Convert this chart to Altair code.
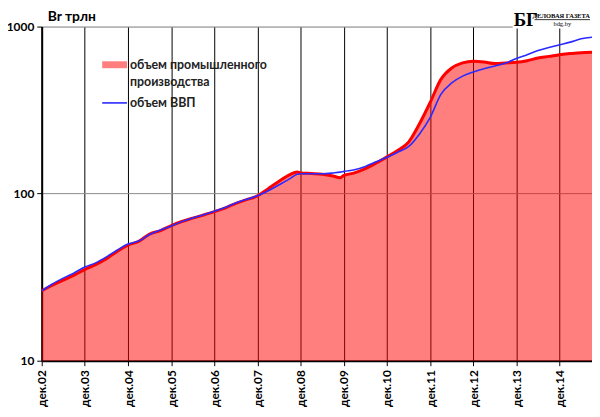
import altair as alt
import pandas as pd

# quarterly readings, trillion Br, log scale
dates = [
    "2002-12-01",
    "2003-03-01", "2003-06-01", "2003-09-01", "2003-12-01",
    "2004-03-01", "2004-06-01", "2004-09-01", "2004-12-01",
    "2005-03-01", "2005-06-01", "2005-09-01", "2005-12-01",
    "2006-03-01", "2006-06-01", "2006-09-01", "2006-12-01",
    "2007-03-01", "2007-06-01", "2007-09-01", "2007-12-01",
    "2008-03-01", "2008-06-01", "2008-09-01", "2008-11-01", "2008-12-01",
    "2009-03-01", "2009-06-01", "2009-09-01", "2009-11-01", "2009-12-01",
    "2010-03-01", "2010-06-01", "2010-09-01", "2010-12-01",
    "2011-03-01", "2011-06-01", "2011-09-01", "2011-12-01",
    "2012-03-01", "2012-06-01", "2012-09-01", "2012-12-01",
    "2013-03-01", "2013-06-01", "2013-09-01", "2013-12-01",
    "2014-03-01", "2014-06-01", "2014-09-01", "2014-12-01",
    "2015-03-01", "2015-06-01", "2015-09-01",
]
industry = [
    26.2,
    28.3, 30.4, 32.5, 35.2,
    37.6, 40.8, 45.2, 49.2,
    51.8, 57.3, 60.1, 64.4,
    68.1, 71.3, 74.5, 78.0,
    82.0, 87.5, 92.0, 97.0,
    107, 118.6, 130, 134.6, 133,
    132, 130.8, 127.5, 124.6, 128.5,
    133, 141, 152.6, 166,
    181, 203, 261, 351,
    483, 565, 606, 620,
    614, 601, 606, 611,
    625, 649, 663, 679,
    689, 698, 703,
]
gdp = [
    26.2,
    28.8, 31.2, 33.5, 36.4,
    38.5, 41.8, 46.0, 49.9,
    52.0, 57.0, 60.5, 64.0,
    68.0, 71.5, 74.8, 78.5,
    82.5, 88.0, 92.5, 97.0,
    104, 113, 123, 130.8, 131.6,
    131.6, 131.6, 133, 134.5, 135.9,
    139, 145.6, 155, 165,
    177, 191, 227, 285,
    393, 460, 505, 535,
    560, 580, 605, 645,
    679, 718, 750, 778,
    807, 845, 863,
]
year_ticks = list(range(2002, 2015))

unit_title = "Br трлн"
legend_labels = ["объем промышленного", "производства", "объем ВВП"]

df = pd.DataFrame({"date": dates, "industry": industry, "gdp": gdp})
df["base"] = 10

FONT = "Lato"

x_scale = alt.Scale(
    type="utc",
    domain=[
        alt.DateTime(year=2002, month=12, date=1, utc=True),
        alt.DateTime(year=2015, month=9, date=1, utc=True),
    ],
)
y_scale = alt.Scale(type="log", domain=[10, 1000])

x_axis = alt.Axis(
    values=[alt.DateTime(year=y, month=12, date=1, utc=True) for y in year_ticks],
    labelExpr="'дек.' + utcFormat(datum.value, '%y')",
    labelAngle=-90,
    labelFont=FONT,
    labelFontWeight="bold",
    labelFontSize=12,
    labelColor="black",
    labelPadding=4,
    grid=True,
    gridColor="black",
    gridOpacity=1,
    gridWidth=1,
    domainColor="black",
    domainWidth=2,
    tickColor="black",
    tickSize=5,
    title=None,
)
y_axis = alt.Axis(
    values=[10, 100, 1000],
    format="d",
    labelFont=FONT,
    labelFontWeight="bold",
    labelFontSize=12,
    labelColor="black",
    labelPadding=3,
    grid=True,
    gridColor="#8a8a8a",
    gridOpacity=1,
    domainColor="black",
    domainWidth=2,
    tickColor="black",
    tickSize=5,
    title=None,
)

base = alt.Chart(df).encode(x=alt.X("date:T", scale=x_scale, axis=x_axis))

area = base.mark_area(color="#ff0000", opacity=0.5, interpolate="monotone").encode(
    y=alt.Y("industry:Q", scale=y_scale, axis=y_axis),
    y2="base:Q",
)
red_line = base.mark_line(color="#ff0000", strokeWidth=3, interpolate="monotone").encode(
    y=alt.Y("industry:Q", scale=y_scale)
)
blue_line = base.mark_line(color="#2a2aff", strokeWidth=1.6, interpolate="monotone").encode(
    y=alt.Y("gdp:Q", scale=y_scale)
)

one = pd.DataFrame({"k": [0]})

title_txt = alt.Chart(pd.DataFrame({"t": [unit_title]})).mark_text(
    font=FONT, fontSize=14, fontWeight="bold", align="left", baseline="middle", color="black"
).encode(text="t:N", x=alt.value(6), y=alt.value(-10))

legend_patch = alt.Chart(one).mark_rect(color="#ff0000", opacity=0.5).encode(
    x=alt.value(61), x2=alt.value(86), y=alt.value(35), y2=alt.value(42)
)
legend_line = alt.Chart(one).mark_rule(color="#2a2aff", strokeWidth=1.6).encode(
    x=alt.value(61), x2=alt.value(86), y=alt.value(77)
)
legend_txt = alt.Chart(
    pd.DataFrame({"t": legend_labels, "yy": [39, 56, 77]})
).mark_text(
    font=FONT, fontSize=12.5, fontWeight="bold", align="left", baseline="middle", color="#222"
).encode(text="t:N", x=alt.value(89), y=alt.Y("yy:Q", scale=None))

# newspaper logo in the corner
logo_bg = alt.Chart(one).mark_rect(color="white").encode(
    x=alt.value(475), x2=alt.value(560), y=alt.value(-17), y2=alt.value(2)
)
logo_big = alt.Chart(pd.DataFrame({"t": ["БГ"]})).mark_text(
    font="Liberation Serif", fontSize=19, fontWeight="bold", align="left", baseline="middle", color="black"
).encode(text="t:N", x=alt.value(476), y=alt.value(-7))
logo_name = alt.Chart(pd.DataFrame({"t": ["ДЕЛОВАЯ ГАЗЕТА"]})).mark_text(
    font="Liberation Serif", fontSize=6.5, fontWeight="bold", align="right", baseline="middle", color="black"
).encode(text="t:N", x=alt.value(553), y=alt.value(-11))
logo_rule = alt.Chart(one).mark_rule(color="black", strokeWidth=0.8).encode(
    x=alt.value(497), x2=alt.value(553), y=alt.value(-7)
)
logo_site = alt.Chart(pd.DataFrame({"t": ["bdg.by"]})).mark_text(
    font="Liberation Serif", fontSize=6.5, align="center", baseline="middle", color="black"
).encode(text="t:N", x=alt.value(525), y=alt.value(-3))

chart = alt.layer(
    area, red_line, blue_line, title_txt, legend_patch, legend_line, legend_txt,
    logo_bg, logo_big, logo_name, logo_rule, logo_site,
).properties(
    width=555,
    height=337,
    autosize=alt.AutoSizeParams(type="none"),
    padding={"left": 34, "top": 17, "right": 0, "bottom": 50},
).configure_view(stroke=None).configure(background="white")

chart.save("out.html", embed_options={"renderer": "svg", "actions": False})
